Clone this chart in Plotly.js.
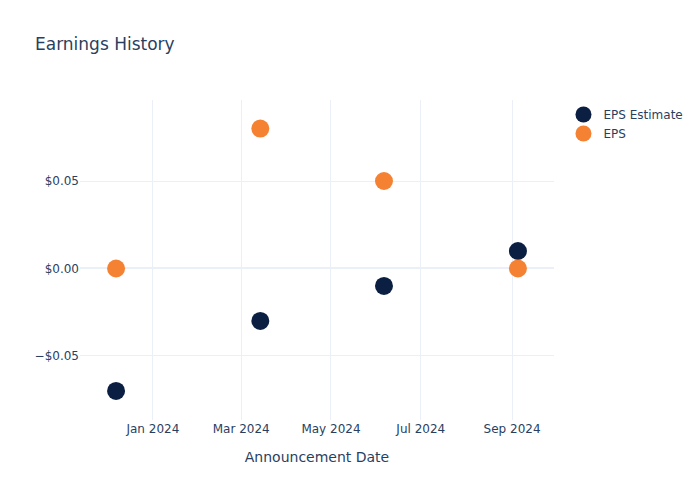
<!DOCTYPE html>
<html><head><meta charset="utf-8">
<script src="https://cdn.plot.ly/plotly-3.0.1.min.js"></script>
<style>body{margin:0;}</style>
</head><body>
<div id="chart" style="width:700px;height:500px;"></div>
<script>
const dates = ["2023-12-07", "2024-03-14", "2024-06-06", "2024-09-05"];
const epsEstimate = [-0.07, -0.03, -0.01, 0.01];
const epsActual = [0.0, 0.08, 0.05, 0.0];

const traces = [
  {x: dates, y: epsEstimate, name: "EPS Estimate", mode: "markers", type: "scatter",
   marker: {color: "#0b1f42", size: 18}},
  {x: dates, y: epsActual, name: "EPS", mode: "markers", type: "scatter",
   marker: {color: "#f58233", size: 18}}
];
const layout = {
  template: "plotly_white",
  width: 700, height: 500,
  title: {text: "Earnings History", x: 0.05, font: {size: 17, color: "#2a3f5f"}},
  plot_bgcolor: "white", paper_bgcolor: "white",
  font: {family: "DejaVu Sans, sans-serif", size: 12, color: "#2a3f5f"},
  xaxis: {title: {text: "Announcement Date", standoff: 17}, gridcolor: "#EBF0F8", zeroline: false,
          range: ["2023-11-12 12:00", "2024-09-29 12:00"]},
  yaxis: {tickformat: "$.2f", gridcolor: "#EBF0F8", zerolinecolor: "#EBF0F8", zerolinewidth: 2,
          range: [-0.0866, 0.0963]},
  legend: {font: {size: 12}},
  margin: {l: 80, r: 80, t: 100, b: 80}
};
Plotly.newPlot("chart", traces, layout, {displayModeBar: false});
</script>
</body></html>
